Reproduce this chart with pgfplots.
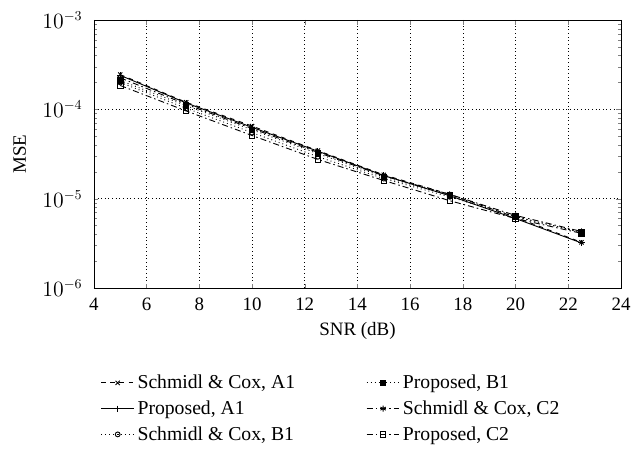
\documentclass[border=0pt]{standalone}
\usepackage{fontspec}
\setmainfont{Liberation Serif}
\usepackage{pgfplots}
\pgfplotsset{compat=1.18}
\begin{document}
\begin{tikzpicture}
\begin{axis}[
  scale only axis,
  width=348pt, height=177pt,
  ymode=log,
  xmin=4, xmax=24, ymin=1e-6, ymax=1e-3,
  xtick={4,6,...,24},
  ytick={1e-6,1e-5,1e-4,1e-3},
  xticklabel style={/pgf/number format/assume math mode=true, yshift=-3pt},
  yticklabel style={font=\fontsize{13.5}{16}\selectfont, xshift=-4pt},
  grid=major,
  major grid style={black, dotted},
  tick align=inside,
  major tick length=3pt, minor tick length=2pt,
  font=\fontsize{12.5}{15}\selectfont,
  xlabel={SNR (dB)}, ylabel={MSE},
  xlabel style={yshift=-1pt},
  ylabel style={yshift=4pt},
  every axis plot/.append style={black, line width=0.6pt, mark size=2pt},
  legend image code/.code={\draw[mark repeat=2,mark phase=2,#1] plot coordinates {(0cm,0cm)(0.38cm,0cm)(0.76cm,0cm)};},
  legend style={at={(0.004,-0.30)}, anchor=north west, draw=none, legend columns=2,
    font=\fontsize{13}{15.6}\selectfont, row sep=2.5pt,
    /tikz/every even column/.append style={column sep=45pt}},
  legend cell align=left,
]
\addplot[dashed, mark=x, mark options={solid}] coordinates {
 (5,2.45e-4) (7.5,1.2e-4) (10,6.5e-5) (12.5,3.45e-5) (15,1.85e-5) (17.5,1.12e-5) (20,6.2e-6) (22.5,3.25e-6)};
\addlegendentry{Schmidl \& Cox, A1}
\addplot[dotted, mark=square*, mark options={solid}, mark size=1.8pt] coordinates {
 (5,2.1e-4) (7.5,1.1e-4) (10,5.9e-5) (12.5,3.2e-5) (15,1.75e-5) (17.5,1.1e-5) (20,6.3e-6) (22.5,4.2e-6)};
\addlegendentry{Proposed, B1}
\addplot[solid, mark=+] coordinates {
 (5,2.4e-4) (7.5,1.18e-4) (10,6.3e-5) (12.5,3.4e-5) (15,1.82e-5) (17.5,1.08e-5) (20,6.0e-6) (22.5,3.2e-6)};
\addlegendentry{Proposed, A1}
\addplot[dash pattern=on 4pt off 2pt on 1pt off 2pt, mark=asterisk, mark options={solid}] coordinates {
 (5,2.25e-4) (7.5,1.14e-4) (10,6.1e-5) (12.5,3.3e-5) (15,1.8e-5) (17.5,1.12e-5) (20,6.5e-6) (22.5,4.3e-6)};
\addlegendentry{Schmidl \& Cox, C2}
\addplot[dotted, mark=o, mark options={solid}, mark size=1.6pt] coordinates {
 (5,2.0e-4) (7.5,1.03e-4) (10,5.5e-5) (12.5,2.95e-5) (15,1.68e-5) (17.5,1.05e-5) (20,6.3e-6) (22.5,4.2e-6)};
\addlegendentry{Schmidl \& Cox, B1}
\addplot[dash pattern=on 4pt off 2pt on 1pt off 2pt, mark=square, mark options={solid}, mark size=1.8pt] coordinates {
 (5,1.85e-4) (7.5,9.6e-5) (10,5.1e-5) (12.5,2.75e-5) (15,1.6e-5) (17.5,9.5e-6) (20,6.0e-6) (22.5,4.1e-6)};
\addlegendentry{Proposed, C2}
\coordinate (ll) at (rel axis cs:0,0);
\coordinate (ur) at (rel axis cs:1,1);
\end{axis}
\pgfresetboundingbox
\path[use as bounding box] ([shift={(-62pt,-108pt)}]ll) rectangle ([shift={(6.6pt,13.2pt)}]ur);
\end{tikzpicture}
\end{document}
